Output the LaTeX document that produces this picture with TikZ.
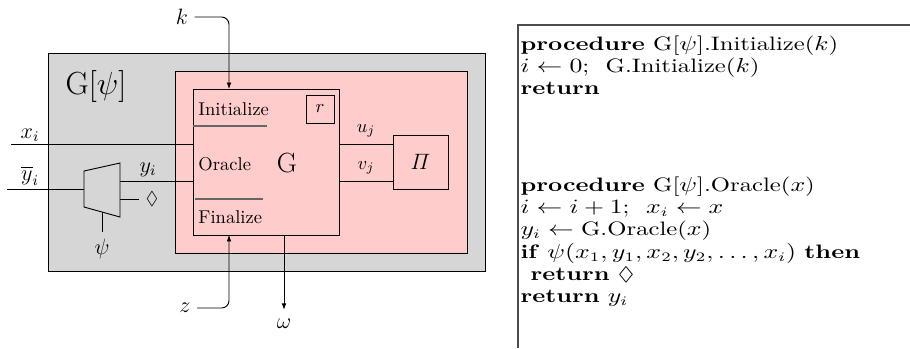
\documentclass[tikz,border=0pt]{standalone}
\usepackage{amsmath,amssymb}
\usetikzlibrary{arrows.meta,positioning}

\definecolor{wrapgray}{RGB}{214,214,214}
\definecolor{gamepink}{RGB}{255,204,204}

\begin{document}
\begin{tikzpicture}[
        x=0.54pt, y=-0.54pt, line width=0.5pt,
        box/.style={draw, inner sep=0pt},
        wire/.style={font=\large},
        sepline/.style={draw=black!60, line width=0.7pt},
        arr/.style={-{Latex[length=3.5pt, width=2.6pt]}},
        algo/.style={anchor=north west, inner sep=0pt, xscale=1.27, align=left,
          font=\fontsize{10.5}{12}\selectfont}
      ]
        \useasboundingbox (0,0) rectangle (910,348);
        % wrapper, game and adversary
        \node[box, fill=wrapgray, minimum width=236pt, minimum height=117.7pt] (wrap) at (266.5,162) {};
        \node[box, fill=gamepink, minimum width=157.7pt, minimum height=98.3pt] (inner) at (321,162) {};
        \node[box, minimum width=78.8pt, minimum height=78.8pt] (G) at (266,162) {};
        \node[box, minimum size=15.1pt] (r) at (320,109) {$r$};
        \node[box, minimum width=29.7pt, minimum height=29.2pt, font=\large] (Pi) at (420.5,162) {$\varPi$};
        \node[font=\LARGE] (wraplbl) at (96,86) {G[$\psi$]};
        \node[anchor=base west, inner sep=0pt] (init) at (198,115) {Initialize};
        \node[anchor=base west, inner sep=0pt] (orac) at (198,170) {Oracle};
        \node[anchor=base west, inner sep=0pt] (fin) at (198,223) {Finalize};
        \node[font=\fontsize{15}{18}\selectfont] (Glbl) at (287,163) {G};
        \draw[sepline] (G.west |- 0,126) -- (267,126);
        \draw[sepline] (195,199) -- (263,199);

        % selector
        \draw (84,171) -- (120,163) -- (120,217) -- (84,207) -- cycle;
        \coordinate (muxin) at (84,189);
        \coordinate (muxout) at (120,181);
        \coordinate (muxbot) at (120,199);
        \coordinate (muxpsi) at (102,212);

        \node[wire] (xi) at (30,135) {$x_i$};
        \node[wire] (ybar) at (30,176) {$\overline{y}_i$};
        \node[wire] (yi) at (148,170) {$y_i$};
        \node (dia) at (152,199) {$\Diamond$};
        \node[wire] (psi) at (102,249) {$\psi$};
        \node[wire] (k) at (182,17) {$k$};
        \node[wire] (z) at (185,308) {$z$};
        \node[wire] (omega) at (284,324) {$\omega$};
        \coordinate (xin) at (11,144);
        \coordinate (ybin) at (7,189);
        \coordinate (kin) at (229,89);
        \coordinate (zin) at (229,235);

        \draw (xin) -- (xin -| G.west);
        \draw (ybin) -- (muxin);
        \draw (muxout) -- (muxout -| G.west);
        \draw (muxbot) -- (dia.west);
        \draw (muxpsi) -- (psi.north);
        \draw[arr, rounded corners=4pt] (k.east) -| (kin);
        \draw[arr, rounded corners=4pt] (z.east) -| (zin);
        \draw[arr, shorten >=1.5pt] (G.south -| omega) -- (omega.north);
        \draw (G.east |- 0,144) -- node[above] (u) {$u_j$} (Pi.west |- 0,144);
        \draw (G.east |- 0,181) -- node[above] (v) {$v_j$} (Pi.west |- 0,181);

        % pseudocode
        \draw[draw=black!70, line width=0.7pt] (518,348) -- (518,25) -- (910,25);
        \node[algo] (initcode) at (520,35.4) {\textbf{procedure} G[$\psi$].Initialize($k$)\\
          $i \gets 0$;~~G.Initialize($k$)\\
          \textbf{return}};
        \node[algo] (oraclecode) at (520,176.4) {\textbf{procedure} G[$\psi$].Oracle($x$)\\
          $i \gets i+1$;~~$x_i \gets x$\\
          $y_i \gets{}$G.Oracle($x$)\\
          \textbf{if} $\psi(x_1,y_1,x_2,y_2,\ldots,x_i)$ \textbf{then}\\
          \hspace*{4.3pt}\textbf{return} $\Diamond$\\
          \textbf{return} $y_i$};
      \end{tikzpicture}
\end{document}
